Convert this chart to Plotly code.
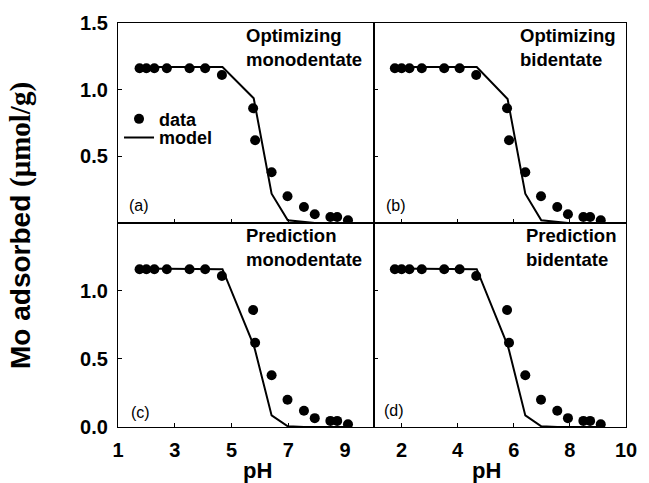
import plotly.graph_objects as go

# ---- data ----
ph = [1.76, 2.0, 2.28, 2.72, 3.52, 4.07, 4.66, 5.76, 5.83, 6.41, 6.97, 7.55, 7.93, 8.48, 8.72, 9.1]
mo_data = [1.16, 1.16, 1.16, 1.16, 1.16, 1.16, 1.11, 0.86, 0.62, 0.38, 0.20, 0.12, 0.065, 0.045, 0.045, 0.02]

model_ph = [1.7, 2.0, 2.28, 2.72, 3.52, 4.07, 4.68, 5.78, 5.83, 6.41, 6.98, 7.55, 7.93, 8.48, 8.72, 9.15]
model_opt_mono = [1.17, 1.17, 1.17, 1.17, 1.17, 1.17, 1.17, 0.935, 0.88, 0.22, 0.02, 0.005, 0.0, 0.0, 0.0, 0.0]
model_opt_bi = [1.17, 1.17, 1.17, 1.17, 1.17, 1.17, 1.17, 0.93, 0.875, 0.22, 0.02, 0.005, 0.0, 0.0, 0.0, 0.0]
model_pred_mono = [1.165, 1.165, 1.165, 1.165, 1.165, 1.165, 1.16, 0.60, 0.565, 0.085, 0.005, 0.0, 0.0, 0.0, 0.0, 0.0]
model_pred_bi = [1.165, 1.165, 1.165, 1.165, 1.165, 1.165, 1.16, 0.60, 0.565, 0.085, 0.005, 0.0, 0.0, 0.0, 0.0, 0.0]

panel_titles = [["Optimizing", "monodentate"], ["Optimizing", "bidentate"],
                ["Prediction", "monodentate"], ["Prediction", "bidentate"]]
panel_tags = ["(a)", "(b)", "(c)", "(d)"]
x_ticks_left = [1, 3, 5, 7, 9]
x_ticks_right = [2, 4, 6, 8, 10]
y_ticks_top = [0.5, 1.0, 1.5]
y_ticks_bottom = [0.0, 0.5, 1.0]
y_title_main = "Mo adsorbed"
y_title_unit = "(μmol/g)"
x_title = "pH"
legend_names = ["data", "model"]

FONT = "Liberation Sans"
models = [model_opt_mono, model_opt_bi, model_pred_mono, model_pred_bi]
fig = go.Figure()
for i in range(4):
    xa = "x" if i == 0 else f"x{i+1}"
    ya = "y" if i == 0 else f"y{i+1}"
    fig.add_trace(go.Scatter(x=model_ph, y=models[i], mode="lines",
                             line=dict(color="black", width=2),
                             xaxis=xa, yaxis=ya, name=legend_names[1],
                             showlegend=(i == 0), legend="legend2"))
    fig.add_trace(go.Scatter(x=ph, y=mo_data, mode="markers",
                             marker=dict(color="black", size=10, symbol="circle"),
                             xaxis=xa, yaxis=ya, name=legend_names[0],
                             showlegend=(i == 0), legend="legend"))

split_x = 0.503
split_y = 0.505
xdom = [[0, split_x], [split_x, 1], [0, split_x], [split_x, 1]]
ydom = [[split_y, 1], [split_y, 1], [0, split_y], [0, split_y]]

axis_common = dict(showline=True, mirror=True, linecolor="black", linewidth=1.3,
                   ticks="inside", ticklen=4, tickcolor="black", tickwidth=1,
                   showgrid=False, zeroline=False,
                   tickfont=dict(family=FONT, size=20, color="black", weight="bold"))

leg_font = dict(family=FONT, size=18, color="black", weight="bold")
layout = dict(
    width=649, height=483,
    margin=dict(l=118, r=12, t=17, b=56),
    paper_bgcolor="white", plot_bgcolor="white",
    showlegend=True,
    legend=dict(x=0.002, y=0.762, xanchor="left", yanchor="middle",
                bgcolor="rgba(0,0,0,0)", borderwidth=0, font=leg_font),
    legend2=dict(x=0.002, y=0.716, xanchor="left", yanchor="middle",
                 bgcolor="rgba(0,0,0,0)", borderwidth=0, font=leg_font),
)
for i in range(4):
    xk = "xaxis" if i == 0 else f"xaxis{i+1}"
    yk = "yaxis" if i == 0 else f"yaxis{i+1}"
    xref = "x" if i == 0 else f"x{i+1}"
    yref = "y" if i == 0 else f"y{i+1}"
    left = i in (0, 2)
    bottom = i in (2, 3)
    xa = dict(axis_common, domain=xdom[i], range=[1, 10], anchor=yref,
              tickvals=(x_ticks_left if left else x_ticks_right),
              showticklabels=bottom, ticklabelstandoff=5)
    ya = dict(axis_common, domain=ydom[i], range=[0, 1.5], anchor=xref,
              tickvals=(y_ticks_bottom if bottom else y_ticks_top),
              tickformat=".1f",
              showticklabels=left, ticklabelstandoff=5)
    layout[xk] = xa
    layout[yk] = ya

annotations = []
title_x = [0.962, 0.968, 0.962, 0.968]
tag_pos = [(0.084, 0.089), (0.089, 0.089), (0.088, 0.072), (0.081, 0.082)]
for i in range(4):
    xref = "x" if i == 0 else f"x{i+1}"
    yref = "y" if i == 0 else f"y{i+1}"
    annotations.append(dict(
        text="<br>".join(panel_titles[i]), xref=f"{xref} domain", yref=f"{yref} domain",
        x=title_x[i], y=1.0, xanchor="right", yanchor="top", align="left", showarrow=False,
        font=dict(family=FONT, size=18.5, color="black", weight="bold")))
    annotations.append(dict(
        text=panel_tags[i], xref=f"{xref} domain", yref=f"{yref} domain",
        x=tag_pos[i][0], y=tag_pos[i][1], xanchor="center", yanchor="middle",
        showarrow=False, font=dict(family=FONT, size=16, color="black")))

annotations.append(dict(
    text=(y_title_main + " <span style=\"font-family:'Liberation Serif';font-size:29px\">"
          + y_title_unit + "</span>"),
    xref="paper", yref="paper", x=-0.193, y=0.50, xanchor="center", yanchor="middle",
    textangle=-90, showarrow=False,
    font=dict(family=FONT, size=28, color="black", weight="bold")))
for xp in (0.2755, 0.726):
    annotations.append(dict(
        text=x_title, xref="paper", yref="paper", x=xp, y=-0.108,
        xanchor="center", yanchor="middle", showarrow=False,
        font=dict(family=FONT, size=22, color="black", weight="bold")))

layout["annotations"] = annotations
fig.update_layout(**layout)
fig.write_html("out.html")
